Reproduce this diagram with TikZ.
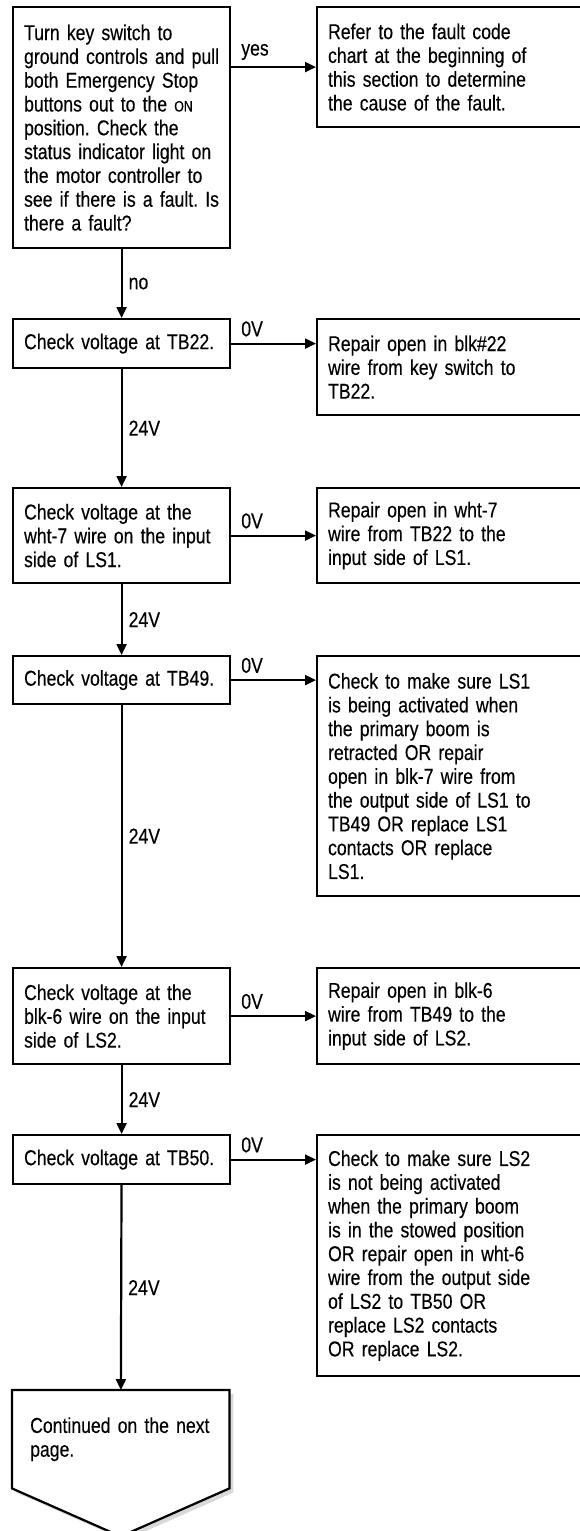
\documentclass[tikz,border=0pt]{standalone}
\usepackage{fontspec}
\setmainfont{Liberation Sans}[FakeStretch=0.82, FakeBold=0.3]
\usetikzlibrary{arrows.meta,positioning,calc,backgrounds}
\frenchspacing

\begin{document}
\begin{tikzpicture}[
    x=1pt, y=-1pt,
    font=\fontsize{21.5pt}{23.8pt}\selectfont,
    stepbox/.style={rectangle, draw, line width=2.2pt, anchor=north west, align=left, text width=195pt, inner xsep=11pt, inner ysep=0pt},
    fixbox/.style={stepbox, text width=250pt},
    arrow/.style={-{Triangle[length=11pt, width=10pt]}, line width=2.2pt},
    vlabel/.style={right, inner sep=6pt},
    hlabel/.style={anchor=south west, inner sep=0pt, xshift=9pt, yshift=6pt}
]
\useasboundingbox (0,0) rectangle (579,1531);

% Checks
\node[stepbox, minimum height=241pt] (q1) at (12,6) {Turn key switch to\\ground controls and pull\\both Emergency Stop\\buttons out to the {\fontsize{15pt}{15pt}\selectfont ON}\\position. Check the\\status indicator light on\\the motor controller to\\see if there is a fault. Is\\there a fault?};
\node[stepbox, minimum height=49pt] (tb22) at (12,318) {Check voltage at TB22.};
\node[stepbox, minimum height=95pt] (wht7) at (12,487) {Check voltage at the\\wht-7 wire on the input\\side of LS1.};
\node[stepbox, minimum height=48pt] (tb49) at (12,655) {Check voltage at TB49.};
\node[stepbox, minimum height=96pt] (blk6) at (12,967) {Check voltage at the\\blk-6 wire on the input\\side of LS2.};
\node[stepbox, minimum height=49pt] (tb50) at (12,1134) {Check voltage at TB50.};

% Repairs
\node[fixbox, minimum height=120pt] (fault) at (316,6) {Refer to the fault code\\chart at the beginning of\\this section to determine\\the cause of the fault.};
\node[fixbox, minimum height=96pt] (rep22) at (316,318) {Repair open in blk\#22\\wire from key switch to\\TB22.};
\node[fixbox, minimum height=95pt] (rep7) at (316,487) {Repair open in wht-7\\wire from TB22 to the\\input side of LS1.};
\node[fixbox, minimum height=240pt] (ls1) at (316,655) {Check to make sure LS1\\is being activated when\\the primary boom is\\retracted OR repair\\open in blk-7 wire from\\the output side of LS1 to\\TB49 OR replace LS1\\contacts OR replace\\LS1.};
\node[fixbox, minimum height=96pt] (rep6) at (316,967) {Repair open in blk-6\\wire from TB49 to the\\input side of LS2.};
\node[fixbox, minimum height=241pt] (ls2) at (316,1134) {Check to make sure LS2\\is not being activated\\when the primary boom\\is in the stowed position\\OR repair open in wht-6\\wire from the output side\\of LS2 to TB50 OR\\replace LS2 contacts\\OR replace LS2.};

% Off-page connector
\node[anchor=north west, align=left, text width=181pt, inner xsep=18pt, inner ysep=0pt, minimum width=217pt, minimum height=98pt] (cont) at (12,1390) {Continued on the next\\page.};
\begin{scope}[on background layer]
    \fill[black!15] ($(cont.north west)+(4,4)$) -- ($(cont.north east)+(4,4)$) -- ($(cont.south east)+(4,4)$) -- ($(cont.south)+(4,52)$) -- ($(cont.south west)+(4,4)$) -- cycle;
    \draw[line width=2.2pt, fill=white] (cont.north west) -- (cont.north east) -- (cont.south east) -- ($(cont.south)+(0,48)$) -- (cont.south west) -- cycle;
\end{scope}

% Connections
\foreach \a/\b/\v in {q1/tb22/no, tb22/wht7/24V, wht7/tb49/24V, tb49/blk6/24V, blk6/tb50/24V, tb50/cont/24V} {
    \draw[arrow] (\a) -- node[vlabel] {\v} (\b);
}

\draw[arrow] (q1.east |- fault.west) -- node[hlabel, pos=0] {yes} (fault.west);
\foreach \a/\b in {tb22/rep22, wht7/rep7, tb49/ls1, blk6/rep6, tb50/ls2} {
    \draw[arrow] (\a.east) -- node[hlabel, pos=0] {0V} (\a.east -| \b.west);
}

\end{tikzpicture}
\end{document}
